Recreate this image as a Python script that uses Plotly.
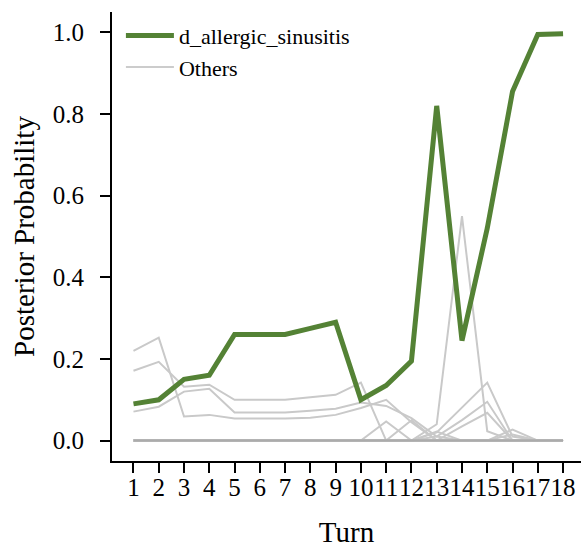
import plotly.graph_objects as go

turns = list(range(1, 19))
main_name = "d_allergic_sinusitis"
main_vals = [0.09, 0.10, 0.15, 0.16, 0.26, 0.26, 0.26, 0.275, 0.29, 0.10,
             0.135, 0.195, 0.82, 0.245, 0.52, 0.855, 0.995, 0.997]

others_1 = [0.22, 0.252, 0.059, 0.063, 0.054, 0.054, 0.054, 0.056, 0.063, 0.08,
            0.10, 0.045, 0.0, 0.0, 0.0, 0.0, 0.0, 0.0]
others_2 = [0.171, 0.193, 0.132, 0.137, 0.100, 0.100, 0.100, 0.106, 0.112, 0.142,
            0.0, 0.0, 0.0, 0.0, 0.0, 0.0, 0.0, 0.0]
others_3 = [0.071, 0.083, 0.12, 0.127, 0.069, 0.069, 0.069, 0.073, 0.078, 0.093,
            0.085, 0.055, 0.01, 0.0, 0.0, 0.0, 0.0, 0.0]
others_4 = [0, 0, 0, 0, 0, 0, 0, 0, 0, 0, 0.047, 0.0, 0, 0, 0, 0, 0, 0]
others_5 = [0, 0, 0, 0, 0, 0, 0, 0, 0, 0, 0, 0.05, 0.0, 0, 0, 0, 0, 0]
others_6 = [0, 0, 0, 0, 0, 0, 0, 0, 0, 0, 0, 0, 0.04, 0.55, 0.023, 0, 0, 0]
others_7 = [0, 0, 0, 0, 0, 0, 0, 0, 0, 0, 0, 0, 0.02, 0.08, 0.142, 0.01, 0, 0]
others_8 = [0, 0, 0, 0, 0, 0, 0, 0, 0, 0, 0, 0, 0.01, 0.05, 0.095, 0.0, 0, 0]
others_9 = [0, 0, 0, 0, 0, 0, 0, 0, 0, 0, 0, 0, 0.0, 0.035, 0.068, 0.0, 0, 0]
others_10 = [0, 0, 0, 0, 0, 0, 0, 0, 0, 0, 0, 0, 0, 0, 0.0, 0.027, 0, 0]
others_11 = [0, 0, 0, 0, 0, 0, 0, 0, 0, 0, 0, 0, 0.022, 0.0, 0, 0.015, 0, 0]
others_list = [others_1, others_2, others_3, others_4, others_5, others_6, others_7,
               others_8, others_9, others_10, others_11]
others_zero = [0] * 18

y_ticks = [0.0, 0.2, 0.4, 0.6, 0.8, 1.0]
y_tick_labels = ["0.0", "0.2", "0.4", "0.6", "0.8", "1.0"]

fig = go.Figure()
for vals in others_list:
    fig.add_trace(go.Scatter(x=turns, y=vals, mode="lines",
                             line=dict(color="#c9c9c9", width=2),
                             name="Others", showlegend=False, hoverinfo="skip"))
fig.add_trace(go.Scatter(x=turns, y=others_zero, mode="lines",
                         line=dict(color="#ababab", width=2.5),
                         name="Others", showlegend=False, hoverinfo="skip"))
# legend entry for others
fig.add_trace(go.Scatter(x=[None], y=[None], mode="lines",
                         line=dict(color="#cccccc", width=2), name="Others",
                         legendrank=2))
fig.add_trace(go.Scatter(x=turns, y=main_vals, mode="lines",
                         line=dict(color="#548235", width=5), name=main_name,
                         legendrank=1))

ff = "Liberation Serif"
fig.update_layout(
    width=581, height=548,
    margin=dict(l=112, r=0, t=12, b=87),
    paper_bgcolor="white", plot_bgcolor="white",
    font=dict(family=ff, color="black"),
    showlegend=True,
    legend=dict(x=0.019, y=0.994, xanchor="left", yanchor="top",
                font=dict(size=22, family=ff, color="black"),
                bgcolor="rgba(0,0,0,0)",
                tracegroupgap=0, itemwidth=48),
    xaxis=dict(range=[0.15, 18.71], tickmode="array", tickvals=turns,
               ticktext=[str(t) for t in turns], tickangle=0,
               showgrid=False, zeroline=False,
               showline=True, linecolor="black", linewidth=2.2,
               ticks="outside", ticklen=10, tickwidth=2, tickcolor="black",
               tickfont=dict(size=25, family=ff),
               ticklabelstandoff=-7,
               title=dict(text="Turn", font=dict(size=29, family=ff), standoff=22)),
    yaxis=dict(range=[-0.05, 1.05], tickmode="array", tickvals=y_ticks,
               ticktext=y_tick_labels,
               showgrid=False, zeroline=False,
               showline=True, linecolor="black", linewidth=2.2,
               ticks="outside", ticklen=10, tickwidth=2, tickcolor="black",
               tickfont=dict(size=25, family=ff),
               ticklabelstandoff=11,
               title=dict(text="Posterior Probability", font=dict(size=29, family=ff), standoff=10)),
)

fig.write_html("out.html")
